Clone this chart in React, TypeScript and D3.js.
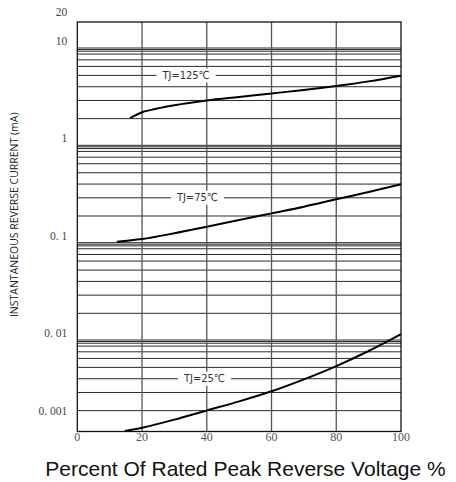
import React, { useRef, useEffect } from 'react';
import * as d3 from 'd3';

// x axis: percent of rated peak reverse voltage
const xTicks = [0, 20, 40, 60, 80, 100];

// y axis (log): extent read from the frame, labelled values
const yExtent: [number, number] = [0.001148, 18.5];
const yTicks = [20, 10, 1, 0.1, 0.01, 0.001];
const yTickText = ['20', '10', '1', '0. 1', '0. 01', '0. 001'];

// horizontal rulings: each decade repeats the same (uneven) set of lines
const decadeTops = [10, 1, 0.1, 0.01];
const gridMantissa = [1, 0.965, 0.927, 0.866, 0.756, 0.647, 0.523, 0.4, 0.289, 0.188];

// curves: [percent, mA]
const curve125: [number, number][] = [
  [16.3, 1.9], [20, 2.19], [22.5, 2.3], [30, 2.58], [40, 2.89], [50, 3.14],
  [60, 3.41], [70, 3.71], [80, 4.07], [90, 4.54], [100, 5.19],
];
const curve75: [number, number][] = [
  [12.2, 0.102], [20, 0.109], [30, 0.125], [40, 0.146], [50, 0.171],
  [60, 0.2], [70, 0.234], [80, 0.279], [90, 0.331], [100, 0.398],
];
const curve25: [number, number][] = [
  [14.7, 0.00116], [20, 0.001256], [30, 0.00152], [40, 0.00189], [50, 0.00234],
  [60, 0.00297], [70, 0.00394], [80, 0.0054], [90, 0.00771], [100, 0.0115],
];

// curve labels sit on a ruling, [text, percent, mA]
const curveLabels: [string, number, number][] = [
  ['TJ=125\u2103', 33.6, 5.23],
  ['TJ=75\u2103', 37.1, 0.289],
  ['TJ=25\u2103', 39.3, 0.004],
];

const W = 456;
const H = 482;

export default function App() {
  const svgRef = useRef<SVGSVGElement>(null);

  useEffect(() => {
    if (!svgRef.current) return;
    const margin = { top: 22, right: 55, bottom: 50.5, left: 77.3 };
    const innerW = W - margin.left - margin.right;
    const innerH = H - margin.top - margin.bottom;

    const svg = d3.select(svgRef.current);
    svg.selectAll('*').remove();

    svg.append('rect').attr('width', W).attr('height', H).attr('fill', '#fff');

    const g = svg.append('g').attr('transform', `translate(${margin.left},${margin.top})`);

    const x = d3.scaleLinear().domain([0, 100]).range([0, innerW]);
    const y = d3.scaleLog().domain(yExtent).range([innerH, 0]);

    // horizontal rulings
    const hLines = decadeTops.flatMap(t => gridMantissa.map(m => t * m));
    g.append('g')
      .selectAll('line')
      .data(hLines)
      .enter()
      .append('line')
      .attr('x1', 0)
      .attr('x2', innerW)
      .attr('y1', d => y(d))
      .attr('y2', d => y(d))
      .attr('stroke', '#2a2a2a')
      .attr('stroke-width', 1);

    // vertical rulings
    g.append('g')
      .selectAll('line')
      .data(xTicks.slice(1, -1))
      .enter()
      .append('line')
      .attr('x1', d => x(d))
      .attr('x2', d => x(d))
      .attr('y1', 0)
      .attr('y2', innerH)
      .attr('stroke', '#555')
      .attr('stroke-width', 1.3);

    // frame
    g.append('rect')
      .attr('width', innerW)
      .attr('height', innerH)
      .attr('fill', 'none')
      .attr('stroke', '#111')
      .attr('stroke-width', 1.3);

    // curve labels with a white patch over the rulings
    curveLabels.forEach(([label, px, v]) => {
      const lg = g.append('g').attr('transform', `translate(${x(px)},${y(v)})`);
      const bg = lg.append('rect').attr('fill', '#fff');
      const t = lg.append('text')
        .attr('text-anchor', 'middle')
        .attr('dominant-baseline', 'central')
        .style('font-family', '"DejaVu Sans Condensed", "Liberation Sans Narrow", sans-serif')
        .style('font-size', '11px')
        .style('fill', '#333')
        .text(label);
      const w = (t.node() as SVGTextElement).getComputedTextLength();
      bg.attr('x', -w / 2 - 6).attr('y', -7).attr('width', w + 12).attr('height', 14);
    });

    // curves
    const line = d3.line<[number, number]>()
      .x(d => x(d[0]))
      .y(d => y(d[1]))
      .curve(d3.curveMonotoneX);
    [curve125, curve75, curve25].forEach(c => {
      g.append('path')
        .attr('d', line(c))
        .attr('fill', 'none')
        .attr('stroke', '#000')
        .attr('stroke-width', 2);
    });

    // y tick labels (the lowest one is lifted clear of the x labels)
    yTicks.forEach((v, i) => {
      g.append('text')
        .attr('x', -10)
        .attr('y', Math.min(y(v) - 7, innerH - 21))
        .attr('text-anchor', 'end')
        .attr('dominant-baseline', 'central')
        .style('font-family', '"Liberation Serif", "DejaVu Serif", serif')
        .style('font-size', '11.5px')
        .style('fill', '#444')
        .text(yTickText[i]);
    });

    // x tick labels
    xTicks.forEach(v => {
      g.append('text')
        .attr('x', x(v))
        .attr('y', innerH + 5)
        .attr('text-anchor', 'middle')
        .attr('dominant-baseline', 'central')
        .style('font-family', '"Liberation Serif", "DejaVu Serif", serif')
        .style('font-size', '12px')
        .style('fill', '#555')
        .text(v);
    });

    // axis titles
    svg.append('text')
      .attr('x', 245.5)
      .attr('y', 468)
      .attr('text-anchor', 'middle')
      .attr('dominant-baseline', 'central')
      .style('font-family', '"Liberation Sans", Arial, sans-serif')
      .style('font-size', '21px')
      .style('fill', '#111')
      .text('Percent Of Rated Peak Reverse Voltage %');

    svg.append('text')
      .attr('transform', `translate(14,${margin.top + innerH / 2 - 12}) rotate(-90)`)
      .attr('text-anchor', 'middle')
      .attr('dominant-baseline', 'central')
      .style('font-family', '"Open Sans", "DejaVu Sans", sans-serif')
      .style('font-size', '10.5px')
      .style('fill', '#222')
      .text('INSTANTANEOUS REVERSE CURRENT (mA)');
  }, []);

  return (
    <svg
      ref={svgRef}
      width={W}
      height={H}
      style={{ position: 'absolute', left: 0, top: 0 }}
    />
  );
}
